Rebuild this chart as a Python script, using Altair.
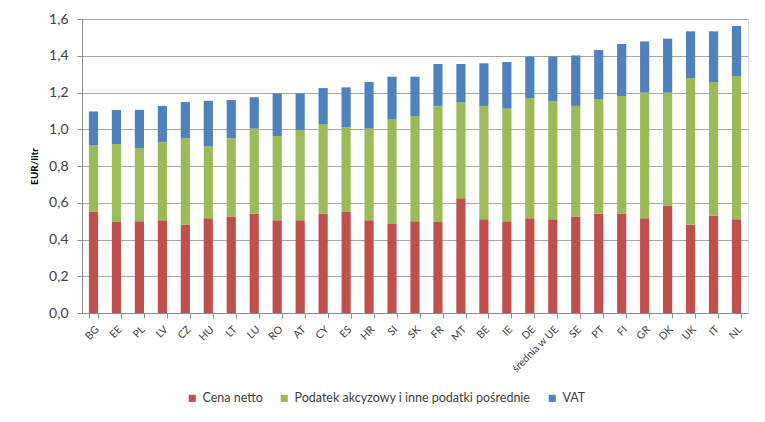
import altair as alt
import pandas as pd

countries = ["BG", "EE", "PL", "LV", "CZ", "HU", "LT", "LU", "RO", "AT", "CY", "ES",
             "HR", "SI", "SK", "FR", "MT", "BE", "IE", "DE", "średnia w UE", "SE",
             "PT", "FI", "GR", "DK", "UK", "IT", "NL"]

cena_netto = [0.550, 0.495, 0.500, 0.505, 0.480, 0.515, 0.525, 0.540, 0.505, 0.505,
              0.540, 0.550, 0.505, 0.485, 0.500, 0.495, 0.625, 0.510, 0.500, 0.515,
              0.510, 0.525, 0.540, 0.540, 0.515, 0.585, 0.480, 0.530, 0.510]

akcyza = [0.362, 0.425, 0.398, 0.426, 0.472, 0.394, 0.427, 0.463, 0.458, 0.491,
          0.488, 0.460, 0.498, 0.569, 0.572, 0.632, 0.523, 0.617, 0.612, 0.655,
          0.642, 0.602, 0.623, 0.641, 0.684, 0.614, 0.799, 0.727, 0.780]

vat = [0.185, 0.185, 0.207, 0.196, 0.196, 0.246, 0.207, 0.171, 0.232, 0.199,
       0.196, 0.218, 0.254, 0.232, 0.214, 0.228, 0.207, 0.232, 0.254, 0.225,
       0.243, 0.275, 0.268, 0.283, 0.279, 0.294, 0.254, 0.276, 0.272]

series = ["Cena netto", "Podatek akcyzowy i inne podatki pośrednie", "VAT"]
colors = ["#C0504D", "#9BBB59", "#4F81BD"]

rows = []
for i, c in enumerate(countries):
    for k, vals in enumerate([cena_netto, akcyza, vat]):
        rows.append({"kraj": c, "seria": series[k], "wartosc": vals[i], "kolejnosc": k})
df = pd.DataFrame(rows)

font = "Lato"

chart = alt.Chart(df).mark_bar().encode(
    x=alt.X("kraj:N", sort=countries, title=None,
            scale=alt.Scale(paddingInner=0.6, paddingOuter=0.3),
            axis=alt.Axis(labelAngle=-45, labelFontSize=10.5, labelColor="#404040",
                          labelFont=font, domainColor="#8c8c8c", tickColor="#8c8c8c",
                          tickSize=5, tickBand="extent", labelPadding=6)),
    y=alt.Y("wartosc:Q", stack="zero", title="EUR/litr",
            scale=alt.Scale(domain=[0, 1.6]),
            axis=alt.Axis(values=[0, 0.2, 0.4, 0.6, 0.8, 1.0, 1.2, 1.4, 1.6],
                          labelExpr="replace(format(datum.value, '.1f'), '.', ',')",
                          labelFontSize=14, labelColor="#404040", labelFont=font,
                          labelPadding=9, tickSize=5, tickColor="#8c8c8c",
                          domainColor="#8c8c8c", gridColor="#a6a6a6",
                          titleFontSize=10, titleFont=font, titleFontWeight="bold",
                          titleColor="#000000", titlePadding=9)),
    color=alt.Color("seria:N", sort=series,
                    scale=alt.Scale(domain=series, range=colors),
                    legend=alt.Legend(title=None, orient="none", direction="horizontal",
                                      legendX=104, legendY=373, symbolType="square",
                                      symbolSize=50, symbolStrokeWidth=0,
                                      labelFontSize=12.5, labelFont=font, labelLimit=0,
                                      labelColor="#404040", columnPadding=15,
                                      labelOffset=4)),
    order=alt.Order("kolejnosc:Q"),
).properties(
    width=666, height=294,
    autosize=alt.AutoSizeParams(type="none"),
    padding={"left": 74, "top": 11, "right": 9, "bottom": 100},
).configure_view(stroke=None).configure(background="white")

chart.save("out.html", embed_options={"renderer": "svg", "actions": False})
